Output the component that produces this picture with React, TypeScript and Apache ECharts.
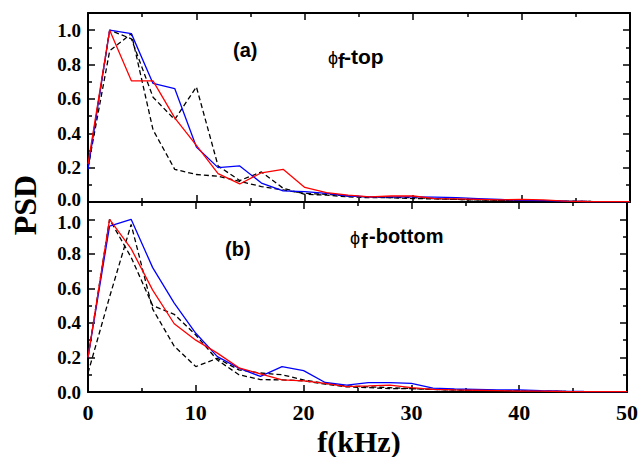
import React, { useEffect, useRef } from "react";
import * as echarts from "echarts";

// frequency (kHz)
const freq = [0, 2, 4, 6, 8, 10, 12, 14, 16, 18, 20, 22, 24, 26, 28, 30, 32, 34, 36, 38, 40, 42, 44, 46, 48, 50];

// (a) phi_f - top
const topRed = [0.22, 1.0, 0.705, 0.705, 0.49, 0.33, 0.165, 0.105, 0.17, 0.19, 0.085, 0.055, 0.04, 0.03, 0.035, 0.035, 0.02, 0.018, 0.015, 0.012, 0.015, 0.012, 0.005, 0.003, 0.002, 0.002];
const topBlue = [0.19, 1.0, 0.98, 0.69, 0.66, 0.32, 0.2, 0.21, 0.11, 0.065, 0.06, 0.05, 0.035, 0.03, 0.03, 0.03, 0.028, 0.025, 0.02, 0.015, 0.01, 0.008, 0.005, 0.003, 0.002, 0.002];
const topDashA = [0.2, 0.88, 0.98, 0.42, 0.19, 0.16, 0.15, 0.12, 0.09, 0.07, 0.05, 0.045, 0.035, 0.03, 0.025, 0.02, 0.018, 0.015, 0.012, 0.01, 0.008, 0.006, 0.004, 0.003, 0.002, 0.001];
const topDashB = [0.2, 1.0, 0.95, 0.61, 0.48, 0.67, 0.21, 0.125, 0.175, 0.08, 0.045, 0.04, 0.03, 0.025, 0.025, 0.025, 0.02, 0.015, 0.012, 0.01, 0.01, 0.008, 0.005, 0.003, 0.002, 0.001];

// (b) phi_f - bottom
const botRed = [0.2, 1.0, 0.83, 0.59, 0.395, 0.3, 0.225, 0.14, 0.105, 0.07, 0.064, 0.05, 0.031, 0.035, 0.04, 0.025, 0.015, 0.012, 0.01, 0.008, 0.005, 0.005, 0.003, 0.002, 0.002, 0.002];
const botBlue = [0.2, 0.96, 1.0, 0.72, 0.515, 0.34, 0.205, 0.138, 0.09, 0.147, 0.124, 0.055, 0.04, 0.054, 0.054, 0.05, 0.022, 0.018, 0.015, 0.012, 0.012, 0.008, 0.005, 0.003, 0.002, 0.002];
const botDashA = [0.11, 0.55, 0.97, 0.48, 0.265, 0.147, 0.195, 0.128, 0.11, 0.1, 0.07, 0.05, 0.035, 0.03, 0.025, 0.02, 0.015, 0.012, 0.01, 0.008, 0.006, 0.004, 0.003, 0.002, 0.001, 0.001];
const botDashB = [0.2, 1.0, 0.78, 0.5, 0.45, 0.33, 0.185, 0.1, 0.072, 0.07, 0.065, 0.045, 0.03, 0.025, 0.02, 0.02, 0.015, 0.012, 0.01, 0.008, 0.006, 0.004, 0.003, 0.002, 0.001, 0.001];

const xTickLabels = ["0", "10", "20", "30", "40", "50"];
const yTickLabels = ["0.0", "0.2", "0.4", "0.6", "0.8", "1.0"];

const SERIF = "'Liberation Serif', 'Times New Roman', serif";
const SANS = "'Liberation Sans', Arial, sans-serif";

function pairs(vals: number[]) {
  return freq.map((f, i) => [f, vals[i]]);
}

const tickStyle = { color: "#000", width: 1.5 };

function xAx(grid: number, pos: "top" | "bottom", labels: boolean) {
  return {
    type: "value",
    gridIndex: grid,
    position: pos,
    min: 0,
    max: 50,
    interval: 10,
    axisLine: { show: true, onZero: false, lineStyle: { color: "#000", width: 2 } },
    axisTick: { show: true, inside: true, length: 7, lineStyle: tickStyle },
    minorTick: { show: true, splitNumber: 2, length: 4, lineStyle: tickStyle },
    splitLine: { show: false },
    minorSplitLine: { show: false },
    axisLabel: {
      show: labels,
      margin: 9,
      color: "#000",
      fontFamily: SERIF,
      fontWeight: "bold",
      fontSize: 22,
      formatter: (v: number) => xTickLabels[Math.round(v / 10)] ?? "",
    },
  };
}

const yLabelFont = { color: "#000", fontFamily: SERIF, fontWeight: "bold", fontSize: 19 };

function yAx(grid: number, pos: "left" | "right", labels: boolean) {
  return {
    type: "value",
    gridIndex: grid,
    position: pos,
    min: 0,
    max: 1.1,
    interval: 0.2,
    axisLine: { show: true, onZero: false, lineStyle: { color: "#000", width: 2 } },
    axisTick: { show: true, inside: true, length: 7, lineStyle: tickStyle },
    minorTick: { show: true, splitNumber: 2, length: 4, lineStyle: tickStyle },
    splitLine: { show: false },
    minorSplitLine: { show: false },
    axisLabel: {
      show: labels,
      showMaxLabel: false,
      margin: 7,
      ...yLabelFont,
      rich: {
        lo: { ...yLabelFont, padding: [0, 0, 6, 0] },
        hi: { ...yLabelFont, padding: [6, 0, 0, 0] },
      },
      formatter: (v: number) => {
        const idx = Math.round(v / 0.2);
        if (Math.abs(v - idx * 0.2) > 1e-6) return "";
        const t = yTickLabels[idx] ?? "";
        if (grid === 0 && idx === 0) return `{lo|${t}}`;
        if (grid === 1 && idx === 5) return `{hi|${t}}`;
        return t;
      },
    },
  };
}

function line(vals: number[], axis: number, color: string, dashed: boolean, z: number) {
  return {
    type: "line",
    xAxisIndex: axis,
    yAxisIndex: axis,
    data: pairs(vals),
    symbol: "none",
    showSymbol: false,
    z,
    lineStyle: { color, width: 1.3, type: dashed ? [5, 3] : "solid" },
  };
}

export default function App() {
  const ref = useRef<HTMLDivElement>(null);
  useEffect(() => {
    const chart = echarts.init(ref.current!, null, { renderer: "svg" });
    const labelText = (text: string, x: number, y: number, weight: string, size = 20, family = SANS) => ({
      type: "text",
      x,
      y,
      style: {
        text,
        fill: "#000",
        font: `${weight} ${size}px ${family}`,
        textAlign: "left",
        textVerticalAlign: "middle",
      },
    });
    chart.setOption({
      animation: false,
      backgroundColor: "#fff",
      grid: [
        { left: 88, top: 13, width: 542, height: 189, containLabel: false },
        { left: 88, top: 202, width: 542, height: 190, containLabel: false },
      ],
      xAxis: [xAx(0, "bottom", false), xAx(0, "top", false), xAx(1, "bottom", true), xAx(1, "top", false)],
      yAxis: [yAx(0, "left", true), yAx(0, "right", false), yAx(1, "left", true), yAx(1, "right", false)],
      series: [
        line(topDashA, 0, "#000", true, 2),
        line(topDashB, 0, "#000", true, 2),
        line(topBlue, 0, "#0000ff", false, 3),
        line(topRed, 0, "#ff0000", false, 4),
        line(botDashA, 2, "#000", true, 2),
        line(botDashB, 2, "#000", true, 2),
        line(botBlue, 2, "#0000ff", false, 3),
        line(botRed, 2, "#ff0000", false, 4),
      ],
      graphic: [
        labelText("(a)", 233, 50, "bold"),
        labelText("ϕ", 328, 58, "normal", 18),
        labelText("f", 338, 61, "bold"),
        labelText("-top", 344, 56, "bold", 21),
        labelText("(b)", 225, 249, "bold"),
        labelText("ϕ", 350, 238, "normal", 18),
        labelText("f", 361, 241, "bold"),
        labelText("-bottom", 369, 236, "bold"),
        {
          type: "text",
          x: 359,
          y: 441,
          style: {
            text: "f(kHz)",
            fill: "#000",
            font: `bold 30px ${SERIF}`,
            textAlign: "center",
            textVerticalAlign: "middle",
          },
        },
        {
          type: "text",
          x: 25,
          y: 205,
          rotation: Math.PI / 2,
          style: {
            text: "PSD",
            fill: "#000",
            font: `bold 32px ${SERIF}`,
            textAlign: "center",
            textVerticalAlign: "middle",
          },
        },
      ],
    });
    return () => chart.dispose();
  }, []);
  return (
    <div
      ref={ref}
      style={{ position: "fixed", left: 0, top: 0, width: 641, height: 457, background: "#fff" }}
    />
  );
}
